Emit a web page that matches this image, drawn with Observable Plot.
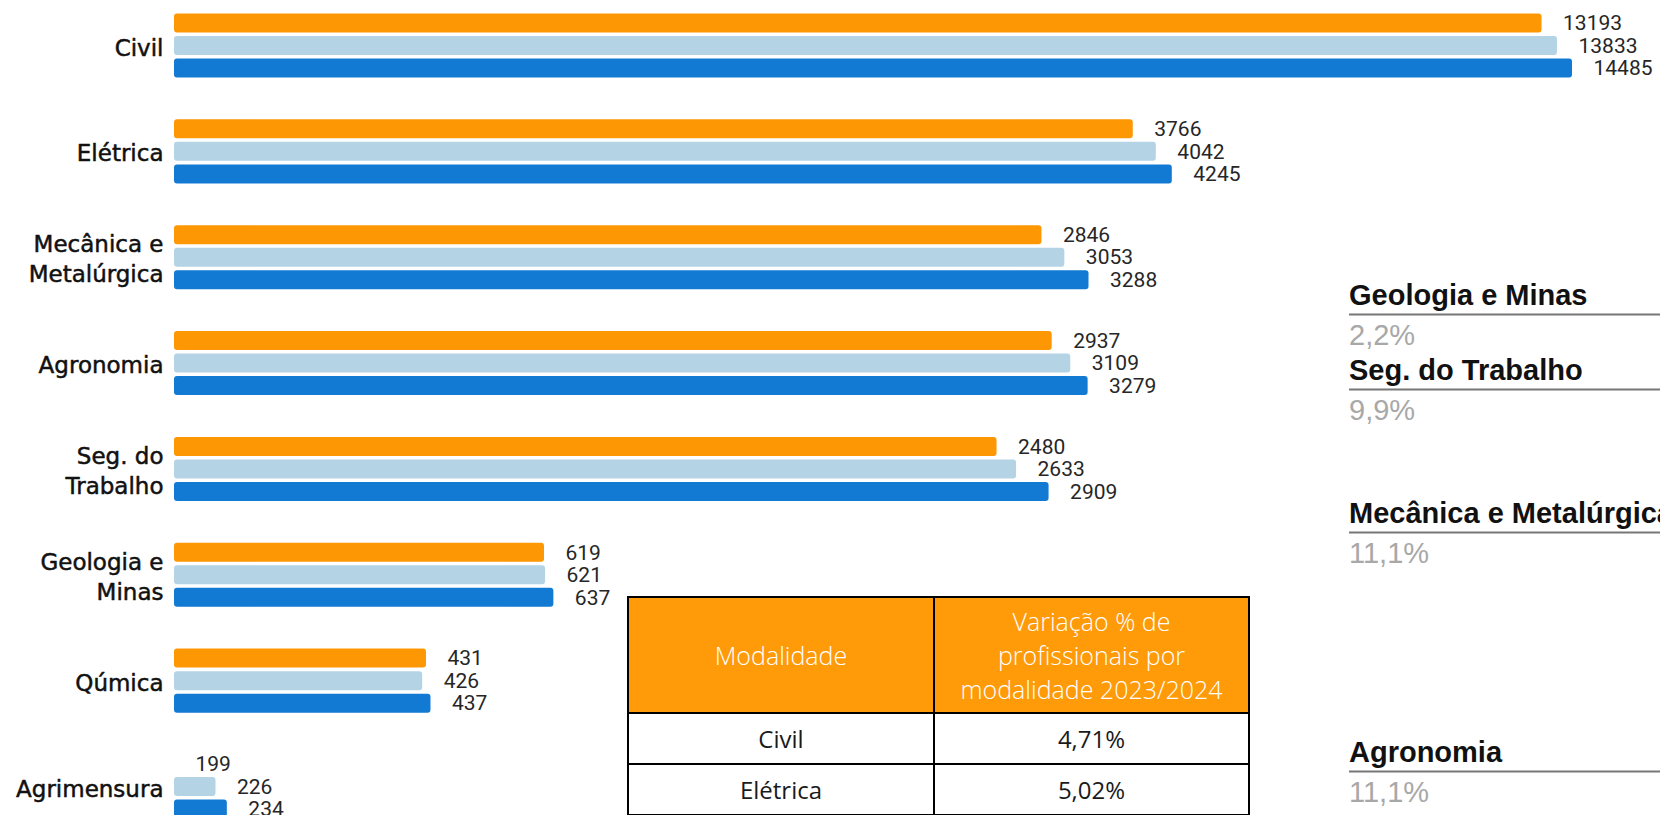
<!DOCTYPE html>
<html><head><meta charset="utf-8">
<script src="https://cdn.jsdelivr.net/npm/d3@7"></script>
<script src="https://cdn.jsdelivr.net/npm/@observablehq/plot@0.6"></script>
<style>
html,body{margin:0;padding:0;background:#fff;overflow:hidden;width:1660px;height:815px}
#wrap{position:relative;width:1660px;height:815px;overflow:hidden;background:#fff}
#chart{position:absolute;left:0;top:0}
#side{position:absolute;left:0;top:0}
#side .ttl{font-family:"Liberation Sans",Arial,sans-serif;font-weight:bold;font-size:29px;fill:#111}
#side .val{font-family:"Liberation Sans",Arial,sans-serif;font-weight:normal;font-size:29px;fill:#a8a8a8}
#tbl{position:absolute;left:627px;top:596px;border-collapse:collapse;font-family:"Open Sans",sans-serif;table-layout:fixed;width:621px}
#tbl td,#tbl th{border:2px solid #000;text-align:center;padding:0}
#tbl th{background:#ff9a08;color:#fff;font-weight:300;font-size:25px;line-height:34px;height:114px}
#tbl td{font-size:24px;font-weight:400;color:#1a1a1a;height:49px;background:#fff}
</style></head><body>
<div id="wrap"><div id="chart"></div><svg id="side" width="1660" height="815"></svg><table id="tbl"></table></div>
<script>
// ---- data ----
const categories = ["Civil", "Elétrica", "Mecânica e Metalúrgica", "Agronomia", "Seg. do Trabalho", "Geologia e Minas", "Qúmica", "Agrimensura"];
const axisLabels = ["Civil", "Elétrica", "Mecânica e\nMetalúrgica", "Agronomia", "Seg. do\nTrabalho", "Geologia e\nMinas", "Qúmica", "Agrimensura"];
const years = ["2022", "2023", "2024"];
const v2022 = [13193, 3766, 2846, 2937, 2480, 619, 431, 199];
const v2023 = [13833, 4042, 3053, 3109, 2633, 621, 426, 226];
const v2024 = [14485, 4245, 3288, 3279, 2909, 637, 437, 234];
const yearColors = ["#fd9704", "#b4d4e6", "#127ad3"];

const tableHeader = ["Modalidade", "Variação % de<br>profissionais por<br>modalidade 2023/2024"];
const tableNames = ["Civil", "Elétrica"];
const tableValues = ["4,71%", "5,02%"];

const sideNames = ["Geologia e Minas", "Seg. do Trabalho", "Mecânica e Metalúrgica", "Agronomia"];
const sideValues = ["2,2%", "9,9%", "11,1%", "11,1%"];

// ---- chart ----
const series = [v2022, v2023, v2024];
const data = [];
categories.forEach((c, i) => years.forEach((y, j) => data.push({cat: c, year: y, value: series[j][i]})));
const xMin = d3.min(data, d => d.value), xMax = d3.max(data, d => d.value);

const chart = Plot.plot({
  width: 1660, height: 832,
  marginLeft: 174, marginRight: 88, marginTop: 0, marginBottom: 0,
  style: {background: "transparent", fontFamily: "DejaVu Sans"},
  x: {type: "log", domain: [xMin, xMax], axis: null},
  y: {domain: years, axis: null, round: false, paddingInner: 0.156, paddingOuter: 0.078},
  fy: {domain: categories, axis: null, round: false, paddingInner: 0.362, paddingOuter: 0.111},
  color: {domain: years, range: yearColors},
  marks: [
    Plot.barX(data, {fy: "cat", y: "year", x1: () => xMin, x2: "value", fill: "year", rx: 3}),
    Plot.text(data, {fy: "cat", y: "year", x: "value", text: d => String(d.value), dx: 21, textAnchor: "start",
      fontFamily: "Roboto", fontSize: 21, fill: "#262626"}),
    Plot.text(categories, {fy: d => d, text: (d, i) => axisLabels[i], frameAnchor: "left", textAnchor: "end", dx: -11,
      fontSize: 23, lineHeight: 1.3, fill: "#111", stroke: "#111", strokeWidth: 0.5, fontFamily: "DejaVu Sans"})
  ]
});
document.getElementById("chart").appendChild(chart);

// ---- table ----
const tbl = d3.select("#tbl");
tbl.append("colgroup").selectAll("col").data([306, 315]).join("col").attr("style", w => `width:${w}px`);
tbl.append("tr").selectAll("th").data(tableHeader).join("th").html(d => d);
tableNames.forEach((n, i) => {
  const tr = tbl.append("tr");
  tr.append("td").text(n);
  tr.append("td").text(tableValues[i]);
});

// ---- side labels ----
const side = d3.select("#side");
const baselines = [305, 380, 523, 762];
sideNames.forEach((n, i) => {
  const b = baselines[i];
  side.append("text").attr("class", "ttl").attr("x", 1349).attr("y", b).text(n);
  side.append("line").attr("x1", 1349).attr("x2", 1660).attr("y1", b + 9.5).attr("y2", b + 9.5)
    .attr("stroke", "#777").attr("stroke-width", 2);
  side.append("text").attr("class", "val").attr("x", 1349).attr("y", b + 40).text(sideValues[i]);
});
</script>
</body></html>
